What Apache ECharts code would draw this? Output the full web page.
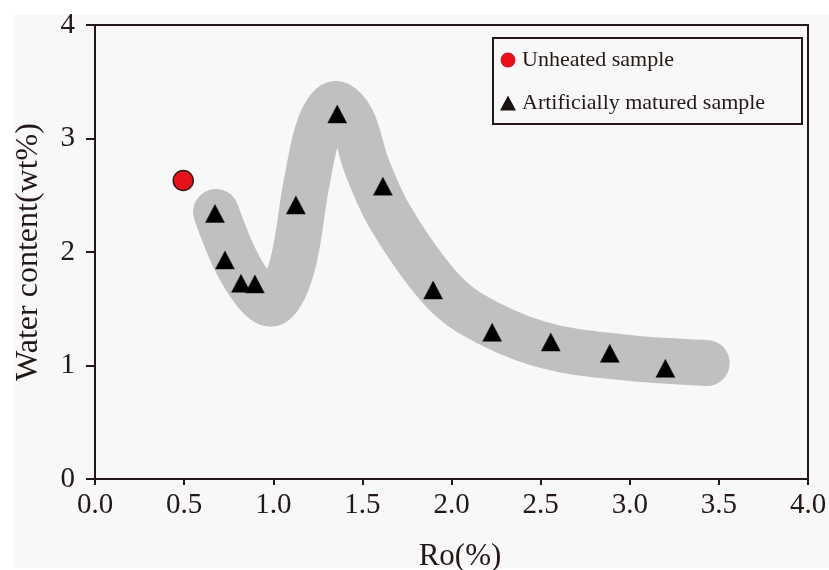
<!DOCTYPE html>
<html>
<head>
<meta charset="utf-8">
<script src="https://cdn.jsdelivr.net/npm/echarts@6/dist/echarts.min.js"></script>
<style>
html,body{margin:0;padding:0;background:#ffffff;}
#chart{width:829px;height:570px;}
</style>
</head>
<body>
<div id="chart"></div>
<script>
// ---- data ----
var xTicks = [0.0, 0.5, 1.0, 1.5, 2.0, 2.5, 3.0, 3.5, 4.0];
var yTicks = [0, 1, 2, 3, 4];
var unheatedRo = [0.495];
var unheatedWater = [2.63];
var maturedRo = [0.673, 0.729, 0.819, 0.897, 1.127, 1.359, 1.615, 1.897, 2.228, 2.557, 2.888, 3.200];
var maturedWater = [2.34, 1.93, 1.724, 1.718, 2.414, 3.216, 2.58, 1.665, 1.292, 1.207, 1.107, 0.975];
// trend band (hand-drawn envelope centreline)
var trendRo = [0.679, 0.824, 0.985, 1.100, 1.185, 1.262, 1.352, 1.441, 1.526, 1.655, 1.907, 2.103, 2.496, 2.944, 3.432];
var trendWater = [2.352, 1.824, 1.545, 1.841, 2.590, 3.119, 3.304, 3.163, 2.749, 2.308, 1.736, 1.463, 1.189, 1.075, 1.022];
var legendNames = ['Unheated sample', 'Artificially matured sample'];

function zip(a, b) { return a.map(function (v, i) { return [v, b[i]]; }); }

var FONT = "'Liberation Serif','Times New Roman',serif";
var INK = '#231815';

var chart = echarts.init(document.getElementById('chart'));
chart.setOption({
  animation: false,
  backgroundColor: '#ffffff',
  textStyle: { fontFamily: FONT, color: INK },
  graphic: [
    { type: 'rect', z: -100, silent: true, shape: { x: 14, y: 15, width: 815, height: 553 }, style: { fill: '#f8f8f8' } },
    { type: 'rect', z: 100, silent: true, shape: { x: 493, y: 38, width: 309, height: 86 }, style: { fill: 'rgba(0,0,0,0)', stroke: INK, lineWidth: 2 } }
  ],
  grid: { left: 95, right: 21, top: 25, bottom: 91, show: true, borderColor: INK, borderWidth: 2, backgroundColor: 'transparent', containLabel: false, outerBoundsMode: 'none' },
  legend: {
    orient: 'vertical', left: 500, top: 49, padding: 0, itemGap: 21,
    itemWidth: 16, itemHeight: 15,
    textStyle: { fontFamily: FONT, fontSize: 22, lineHeight: 22, color: INK, padding: [0, 0, 0, 1] },
    data: [
      { name: legendNames[0], icon: 'circle', itemStyle: { color: '#e8101a', borderColor: '#e8101a', borderWidth: 0 } },
      { name: legendNames[1], icon: 'triangle', itemStyle: { color: '#1a1311', borderWidth: 0 } }
    ]
  },
  xAxis: {
    type: 'value', min: xTicks[0], max: xTicks[xTicks.length - 1], interval: 0.5,
    name: 'Ro(%)', nameLocation: 'middle', nameGap: 62,
    nameTextStyle: { fontFamily: FONT, fontSize: 31, color: INK, padding: [0, 0, 0, 17] },
    axisLine: { show: true, onZero: false, lineStyle: { color: INK, width: 2 } },
    axisTick: { show: true, inside: false, length: 6, lineStyle: { color: INK, width: 2 } },
    axisLabel: { fontFamily: FONT, fontSize: 29, color: INK, margin: 12, formatter: function (v) { return v.toFixed(1); } },
    splitLine: { show: false }
  },
  yAxis: {
    type: 'value', min: yTicks[0], max: yTicks[yTicks.length - 1], interval: 1,
    name: 'Water content(wt%)', nameLocation: 'middle', nameGap: 50,
    nameTextStyle: { fontFamily: FONT, fontSize: 32, color: INK },
    axisLine: { show: true, onZero: false, lineStyle: { color: INK, width: 2 } },
    axisTick: { show: true, inside: false, length: 9, lineStyle: { color: INK, width: 2 } },
    axisLabel: { fontFamily: FONT, fontSize: 29, color: INK, margin: 20 },
    splitLine: { show: false }
  },
  series: [
    {
      name: 'trend', type: 'line', data: zip(trendRo, trendWater), smooth: 0.35,
      showSymbol: false, symbol: 'none', silent: true, z: 1,
      lineStyle: { color: '#c0c0c0', width: 46, cap: 'round', join: 'round' }
    },
    {
      name: legendNames[0], type: 'scatter', data: zip(unheatedRo, unheatedWater), z: 5,
      symbol: 'circle', symbolSize: 20,
      itemStyle: { color: '#e8101a', borderColor: '#3a1a16', borderWidth: 1.5, opacity: 1 }
    },
    {
      name: legendNames[1], type: 'scatter', data: zip(maturedRo, maturedWater), z: 5,
      symbol: 'triangle', symbolSize: [19, 18],
      itemStyle: { color: '#000000', borderColor: '#1a1311', borderWidth: 0.5, opacity: 1 }
    }
  ]
});
</script>
</body>
</html>
